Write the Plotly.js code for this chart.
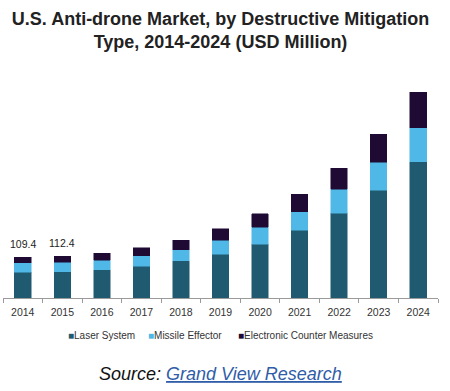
<!DOCTYPE html>
<html>
<head>
<meta charset="utf-8">
<script src="https://cdn.plot.ly/plotly-3.0.1.min.js"></script>
<style>
html,body{margin:0;padding:0;background:#fff;}
#chart{width:450px;height:391px;}
</style>
</head>
<body>
<div id="chart"></div>
<script>
var years = ["2014","2015","2016","2017","2018","2019","2020","2021","2022","2023","2024"];
var laserSystem = [69.8, 70, 76, 86, 100, 117.5, 145, 182, 228, 290, 367];
var missileEffector = [24.4, 26, 26, 28, 30, 37.7, 46, 50, 64.6, 75, 90.6];
var electronicCounter = [15.2, 16.4, 19, 21.5, 26, 30.5, 36, 47.5, 56.5, 75, 96];
var seriesNames = ["Laser System", "Missile Effector", "Electronic Counter Measures"];
var seriesColors = ["#1f5a70", "#4fb8e6", "#1e0a33"];
var labelIndex = [0, 1];
var labelValues = [109.4, 112.4];

var FONT = "Arial, Liberation Sans, sans-serif";
var seriesData = [laserSystem, missileEffector, electronicCounter];
var traces = seriesData.map(function(vals, i){
  return {type:"bar", name:seriesNames[i], x:years, y:vals,
    marker:{color:seriesColors[i], line:{color:seriesColors[i], width:0.5}}};
});

var annotations = labelIndex.map(function(idx, i){
  return {x:idx, y:labelValues[i], xref:"x", yref:"y", text:String(labelValues[i]),
    showarrow:false, yanchor:"bottom", yshift:5,
    font:{family:FONT, size:10.5, color:"#222"}};
});

// legend (compact, like the reference)
var legendX = [66, 146, 236];
seriesNames.forEach(function(n, i){
  annotations.push({
    xref:"paper", yref:"paper", x:(legendX[i]-3)/435, y:(298-335)/223,
    xanchor:"left", yanchor:"middle", showarrow:false,
    text:"<span style='color:" + seriesColors[i] + "'>■</span>" + n,
    font:{family:FONT, size:10, color:"#333"}
  });
});

annotations.push({
  xref:"paper", yref:"paper", x:0.5, y:(298-374)/223, xanchor:"center", yanchor:"middle",
  showarrow:false,
  text:"<i>Source: <span style='color:#2f5da8'><u>Grand View Research</u></span></i>",
  font:{family:FONT, size:18, color:"#111"}
});

var layout = {
  width:450, height:391,
  margin:{l:3, r:12, t:75, b:93, autoexpand:false},
  paper_bgcolor:"#fff", plot_bgcolor:"#fff",
  barmode:"stack", bargap:0.58,
  showlegend:false,
  title:{text:"<b>U.S. Anti-drone Market, by Destructive Mitigation<br>Type, 2014-2024 (USD Million)</b>",
    x:0.5, xanchor:"center", xref:"paper", yref:"container", y:0.936, yanchor:"top",
    font:{family:FONT, size:18, color:"#222"}},
  xaxis:{type:"category", range:[-0.5, 10.5], autorange:false, showline:true, linecolor:"#9a9a9a", linewidth:1,
    ticks:"outside", tickcolor:"#9a9a9a", ticklen:4, tickson:"boundaries", tickangle:0,
    ticklabelstandoff:4,
    showgrid:false, zeroline:false,
    tickfont:{family:FONT, size:10.5, color:"#333"}},
  yaxis:{range:[0,600], autorange:false, visible:false, showgrid:false, zeroline:false},
  annotations:annotations
};

Plotly.newPlot("chart", traces, layout, {displayModeBar:false, staticPlot:true});
</script>
</body>
</html>
